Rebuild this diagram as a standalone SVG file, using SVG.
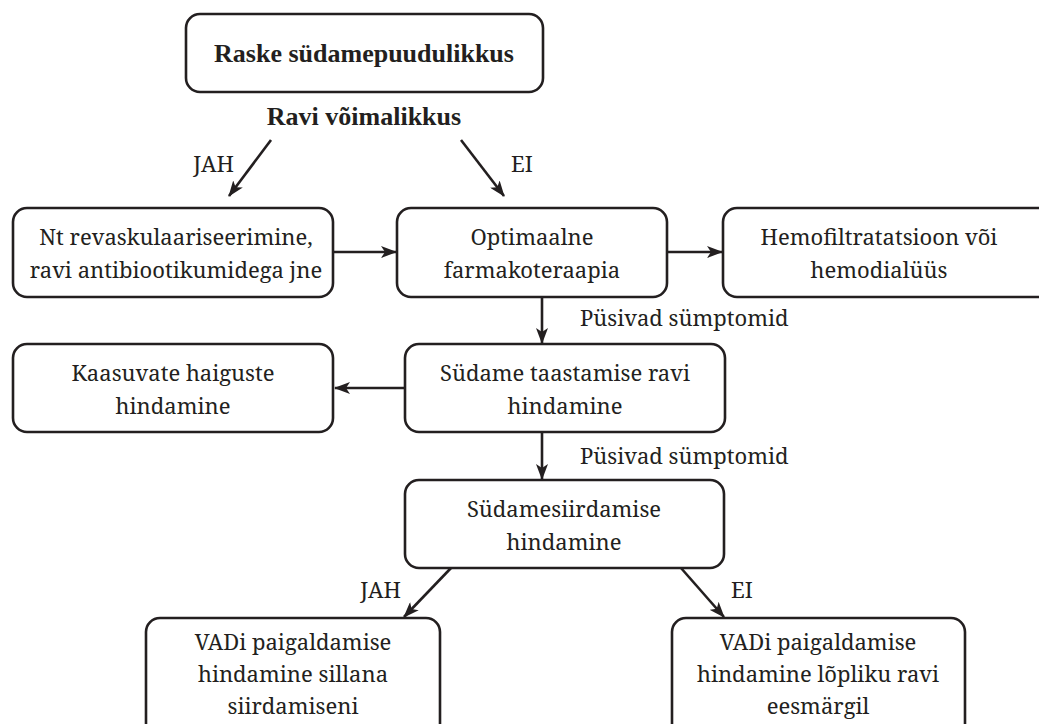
<svg xmlns="http://www.w3.org/2000/svg" width="1039" height="724" viewBox="0 0 1039 724">
<style>
.box{fill:#fff;stroke:#231f20;stroke-width:2.6}
.t{font-family:"Noto Serif","Liberation Serif",serif;font-size:22px;fill:#231f20;text-anchor:middle}
.b{font-family:"Liberation Serif","Noto Serif",serif;font-weight:bold;font-size:26px}
.l{text-anchor:start}
.e{text-anchor:end}
.c{stroke:#231f20;stroke-width:2.6;fill:none;marker-end:url(#ah)}
</style>
<defs>
<marker id="ah" viewBox="0 0 16 12" refX="15" refY="6" markerWidth="16" markerHeight="12" markerUnits="userSpaceOnUse" orient="auto">
<path d="M0,0 L16,6 L0,12 L4,6 z" fill="#231f20"/>
</marker>
</defs>
<rect width="1039" height="724" fill="#fff"/>
<g id="connectors">
<line class="c" x1="271" y1="140" x2="229" y2="196"/>
<line class="c" x1="461" y1="140" x2="504" y2="196"/>
<line class="c" x1="333" y1="252" x2="396" y2="252"/>
<line class="c" x1="667" y1="252" x2="722" y2="252"/>
<line class="c" x1="542" y1="297" x2="542" y2="343"/>
<line class="c" x1="405" y1="388" x2="335" y2="388"/>
<line class="c" x1="542" y1="432" x2="542" y2="479"/>
<line class="c" x1="451" y1="568" x2="404" y2="617"/>
<line class="c" x1="681" y1="568" x2="724" y2="617"/>
<text class="t e" x="234" y="172">JAH</text>
<text class="t l" x="511" y="172">EI</text>
<text class="t l" x="580" y="326">Püsivad sümptomid</text>
<text class="t l" x="580" y="464">Püsivad sümptomid</text>
<text class="t e" x="401" y="598">JAH</text>
<text class="t l" x="731" y="598">EI</text>
</g>
<g id="n1">
<rect class="box" x="186" y="14" width="357" height="78" rx="14"/>
<text class="t b" x="364" y="62">Raske südamepuudulikkus</text>
</g>
<g id="n1label">
<text class="t b" x="364" y="125">Ravi võimalikkus</text>
</g>
<g id="n2">
<rect class="box" x="13" y="208" width="320" height="89" rx="14"/>
<text class="t" x="176" y="245">Nt revaskulaariseerimine,</text>
<text class="t" x="176" y="278">ravi antibiootikumidega jne</text>
</g>
<g id="n3">
<rect class="box" x="397" y="208" width="270" height="89" rx="14"/>
<text class="t" x="532" y="245">Optimaalne</text>
<text class="t" x="532" y="278">farmakoteraapia</text>
</g>
<g id="n4">
<rect class="box" x="723" y="208" width="340" height="89" rx="14"/>
<text class="t" x="879" y="245">Hemofiltratatsioon või</text>
<text class="t" x="879" y="278">hemodialüüs</text>
</g>
<g id="n5">
<rect class="box" x="13" y="344" width="320" height="88" rx="14"/>
<text class="t" x="173" y="381">Kaasuvate haiguste</text>
<text class="t" x="173" y="414">hindamine</text>
</g>
<g id="n6">
<rect class="box" x="405" y="344" width="320" height="88" rx="14"/>
<text class="t" x="565" y="381">Südame taastamise ravi</text>
<text class="t" x="565" y="414">hindamine</text>
</g>
<g id="n7">
<rect class="box" x="405" y="480" width="319" height="88" rx="14"/>
<text class="t" x="564" y="517">Südamesiirdamise</text>
<text class="t" x="564" y="550">hindamine</text>
</g>
<g id="n8">
<rect class="box" x="146" y="618" width="294" height="130" rx="14"/>
<text class="t" x="293" y="650">VADi paigaldamise</text>
<text class="t" x="293" y="682">hindamine sillana</text>
<text class="t" x="293" y="714">siirdamiseni</text>
</g>
<g id="n9">
<rect class="box" x="672" y="618" width="293" height="130" rx="14"/>
<text class="t" x="818" y="650">VADi paigaldamise</text>
<text class="t" x="818" y="682">hindamine lõpliku ravi</text>
<text class="t" x="818" y="714">eesmärgil</text>
</g>
</svg>
